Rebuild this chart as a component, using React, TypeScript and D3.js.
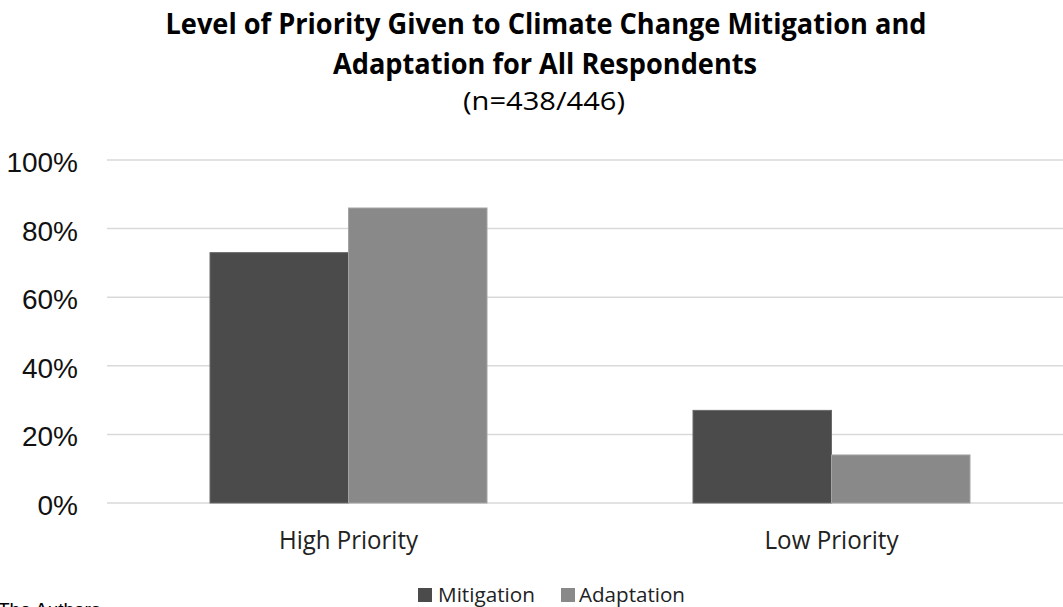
import React from "react";
import * as d3 from "d3";

const categories = ["High Priority", "Low Priority"];
const seriesNames = ["Mitigation", "Adaptation"];
const mitigation = [0.73, 0.27];
const adaptation = [0.86, 0.14];
const yTicks = [0, 0.2, 0.4, 0.6, 0.8, 1.0];
const seriesColors = ["#4b4b4b", "#898989"];
const seriesStroke = ["#6a6a6a", "#a3a3a3"];

const W = 1063;
const H = 607;

export default function App() {
  const x0 = d3.scaleBand<string>().domain(categories).range([107, 1073]).padding(0);
  const step = x0.bandwidth();
  const groupW = 277;
  const x1 = d3
    .scaleBand<string>()
    .domain(seriesNames)
    .range([(step - groupW) / 2, (step + groupW) / 2])
    .padding(0);
  const y = d3.scaleLinear().domain([0, 1]).range([503, 160]);
  const values = [mitigation, adaptation];
  const fmt = d3.format(".0%");

  const catTextLen: Record<string, number> = { "High Priority": 139, "Low Priority": 134 };

  return (
    <svg
      width={W}
      height={H}
      style={{ position: "absolute", left: 0, top: 0, background: "#fff" }}
    >
      <rect x={0} y={0} width={W} height={H} fill="#fff" />
      {/* Title */}
      <text
        x={546}
        y={34}
        textAnchor="middle"
        fontFamily="'Open Sans', sans-serif"
        fontWeight="bold"
        fontSize={28}
        fill="#000"
        textLength={761}
        lengthAdjust="spacingAndGlyphs"
      >
        Level of Priority Given to Climate Change Mitigation and
      </text>
      <text
        x={545}
        y={74}
        textAnchor="middle"
        fontFamily="'Open Sans', sans-serif"
        fontWeight="bold"
        fontSize={28}
        fill="#000"
        textLength={424}
        lengthAdjust="spacingAndGlyphs"
      >
        Adaptation for All Respondents
      </text>
      <text
        x={544}
        y={110}
        textAnchor="middle"
        fontFamily="'Open Sans', sans-serif"
        fontSize={26}
        fill="#000"
        textLength={162}
        lengthAdjust="spacingAndGlyphs"
      >
        (n=438/446)
      </text>

      {/* Gridlines */}
      {yTicks.map((t) => (
        <g key={t}>
          <line x1={107} x2={W} y1={y(t)} y2={y(t)} stroke="#d9d9d9" strokeWidth={1.5} />
          <text
            x={78}
            y={y(t) + 12}
            textAnchor="end"
            fontFamily="'Liberation Sans', Arial, sans-serif"
            fontSize={28}
            fill="#111"
          >
            {fmt(t)}
          </text>
        </g>
      ))}

      {/* Bars */}
      {categories.map((c, i) => (
        <g key={c} transform={`translate(${x0(c)},0)`}>
          {seriesNames.map((s, j) => (
            <rect
              key={s}
              x={x1(s)}
              y={y(values[j][i])}
              width={x1.bandwidth()}
              height={y(0) - y(values[j][i])}
              fill={seriesColors[j]}
              stroke={seriesStroke[j]}
              strokeWidth={1}
            />
          ))}
          <text
            x={step / 2}
            y={549}
            textAnchor="middle"
            fontFamily="'Open Sans', sans-serif"
            fontSize={25}
            fill="#222"
            textLength={catTextLen[c]}
            lengthAdjust="spacingAndGlyphs"
          >
            {c}
          </text>
        </g>
      ))}

      {/* Legend */}
      <g>
        <rect x={418} y={588} width={14} height={14} fill={seriesColors[0]} />
        <text
          x={438}
          y={602}
          fontFamily="'Open Sans', sans-serif"
          fontSize={20}
          fill="#222"
          textLength={97}
          lengthAdjust="spacingAndGlyphs"
        >
          {seriesNames[0]}
        </text>
        <rect x={561} y={588} width={14} height={14} fill={seriesColors[1]} />
        <text
          x={579}
          y={602}
          fontFamily="'Open Sans', sans-serif"
          fontSize={20}
          fill="#222"
          textLength={106}
          lengthAdjust="spacingAndGlyphs"
        >
          {seriesNames[1]}
        </text>
      </g>

      {/* Source, cut off */}
      <text
        x={-2}
        y={616}
        fontFamily="'Liberation Sans', Arial, sans-serif"
        fontSize={19}
        fill="#000"
      >
        The Authors
      </text>
    </svg>
  );
}
